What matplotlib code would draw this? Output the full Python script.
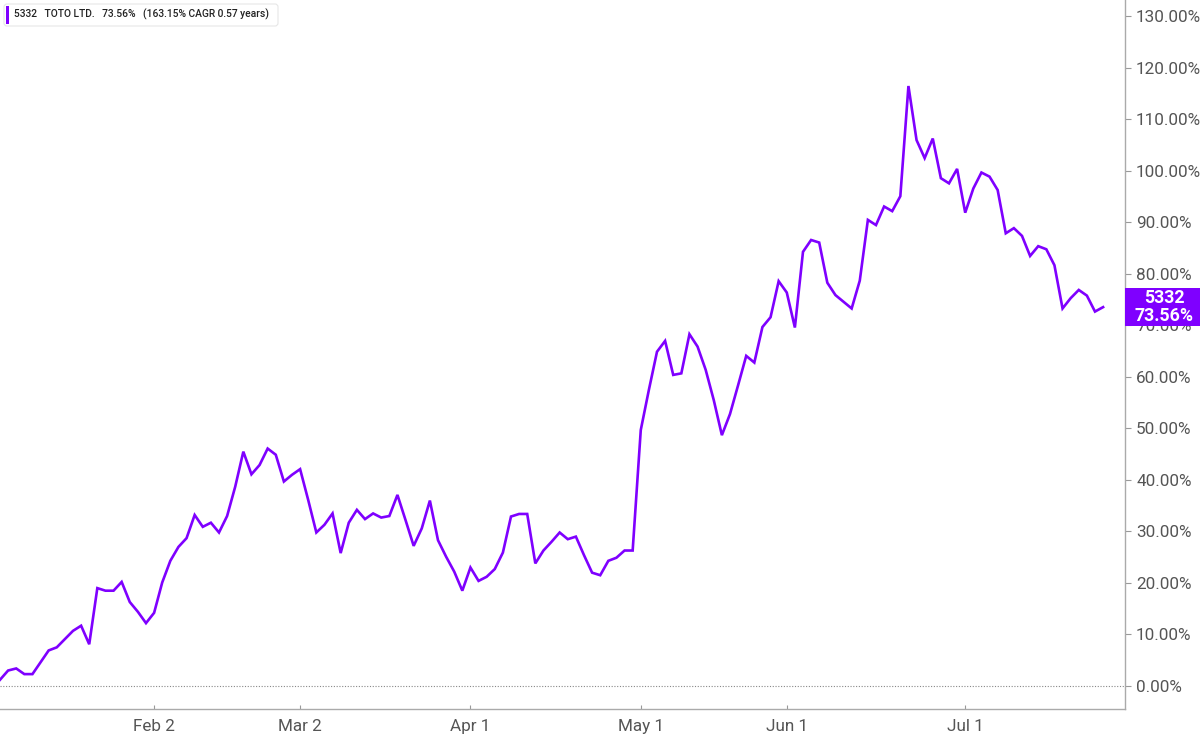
import matplotlib
matplotlib.use('Agg')
import matplotlib.pyplot as plt
from matplotlib.patches import FancyBboxPatch, Rectangle
from matplotlib.ticker import FuncFormatter, MultipleLocator

plt.rcParams['font.family'] = ['Roboto', 'DejaVu Sans']

# cumulative return (%) per trading day
returns = [1.2, 3.0, 3.4, 2.3, 2.3, 4.6, 6.9, 7.5, 9.1, 10.7,
           11.7, 8.1, 19.0, 18.5, 18.5, 20.2, 16.3, 14.4, 12.2, 14.2,
           20.1, 24.3, 27.0, 28.7, 33.2, 30.9, 31.7, 29.8, 33.0, 38.7,
           45.5, 41.1, 42.9, 46.1, 44.9, 39.7, 41.0, 42.1, 36.1, 29.8,
           31.3, 33.5, 25.8, 31.7, 34.2, 32.4, 33.5, 32.7, 33.0, 37.1,
           32.2, 27.2, 30.6, 36.0, 28.3, 25.1, 22.2, 18.5, 23.0, 20.4,
           21.2, 22.7, 25.9, 32.9, 33.4, 33.4, 23.8, 26.3, 28.0, 29.8,
           28.5, 29.0, 25.4, 22.0, 21.5, 24.3, 24.9, 26.3, 26.3, 49.7,
           57.5, 64.9, 67.0, 60.4, 60.7, 68.3, 65.9, 61.4, 55.5, 48.7,
           52.8, 58.4, 64.1, 62.8, 69.7, 71.6, 78.6, 76.4, 69.6, 84.3,
           86.6, 86.1, 78.3, 75.9, 74.6, 73.3, 78.7, 90.5, 89.5, 93.1,
           92.2, 95.1, 116.5, 106.0, 102.5, 106.3, 98.6, 97.6, 100.4, 91.9,
           96.6, 99.7, 98.9, 96.3, 87.9, 88.9, 87.4, 83.5, 85.4, 84.8,
           81.7, 73.3, 75.3, 76.9, 75.8, 72.7, 73.56]
month_idx = [19, 37, 58, 79, 97, 119]
month_labels = ['Feb 2', 'Mar 2', 'Apr 1', 'May 1', 'Jun 1', 'Jul 1']

ticker = '5332'
name = 'TOTO LTD.'
last = returns[-1]
cagr = 163.15
years = 0.57

purple = '#7f00ff'
grey_txt = '#555555'

fig = plt.figure(figsize=(12, 7.35), dpi=100)
ax = fig.add_axes([0, 0.0354, 0.9375, 0.9646])

x = list(range(len(returns)))
ax.plot(x, returns, color=purple, lw=1.9, solid_joinstyle='miter', zorder=3)
ax.axhline(0, color='#888888', lw=0.8, ls=(0, (1, 1.5)), zorder=1)

ax.set_xlim(0, 138.7)
ax.set_ylim(-4.47, 133.2)

ax.yaxis.tick_right()
ax.yaxis.set_major_locator(MultipleLocator(10))
ax.yaxis.set_major_formatter(FuncFormatter(lambda v, p: '%.2f%%' % v))
ax.tick_params(axis='y', direction='out', length=4, width=0.8, color='#999999',
               labelsize=12.3, labelcolor=grey_txt, pad=4)
ax.set_xticks(month_idx)
ax.set_xticklabels(month_labels)
ax.tick_params(axis='x', direction='in', length=3, width=0.8, color='#999999',
               labelsize=12.3, labelcolor=grey_txt, pad=7)

for s in ['top', 'left']:
    ax.spines[s].set_visible(False)
for s in ['right', 'bottom']:
    ax.spines[s].set_color('#aaaaaa')
    ax.spines[s].set_linewidth(1.0)

# legend box top-left (display coords, origin bottom-left)
H = 735
leg = FancyBboxPatch((4, H - 26), 274, 22, boxstyle='round,pad=0,rounding_size=3',
                     transform=None, facecolor='white', edgecolor='#e6e6e6', lw=0.8,
                     zorder=5)
fig.patches.append(leg)
bar = Rectangle((6, H - 24), 3, 18, transform=None, facecolor=purple,
                edgecolor='none', zorder=6)
fig.patches.append(bar)
fig.text(14 / 1200, 1 - 14.5 / H,
         '%s   %s   %.2f%%   (%.2f%% CAGR %.2f years)' % (ticker, name, last, cagr, years),
         fontsize=7.4, color='#222222', fontweight='medium', va='center', ha='left',
         zorder=7)

# last value tag on right axis
ytag = ax.transData.transform((0, last))[1]
tag = Rectangle((1125, ytag - 19), 75, 38, transform=None, facecolor=purple,
                edgecolor='none', zorder=6)
fig.patches.append(tag)
fig.text(1164 / 1200, ytag / H, '%s\n%.2f%%' % (ticker, last), fontsize=12.8,
         color='white', fontweight='bold', ha='center', va='center', linespacing=0.95,
         zorder=7)

fig.savefig('out.png', dpi=100)
